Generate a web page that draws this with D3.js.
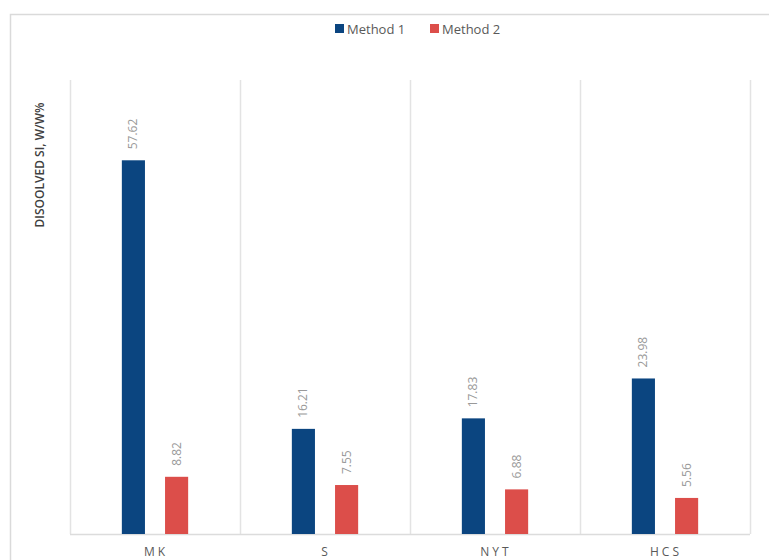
<!DOCTYPE html>
<html lang="en">
<head>
    <meta charset="UTF-8">
    <script src="https://d3js.org/d3.v7.min.js"></script>
    <style>
        body { margin: 0; background: #fff; }
        text { font-family: "Open Sans", "Liberation Sans", Arial, sans-serif; }
    </style>
</head>
<body>
    <svg id="chart" width="769" height="560"></svg>
    <script>
        // data
        const categories = ["MK", "S", "NYT", "HCS"];
        const seriesNames = ["Method 1", "Method 2"];
        const method1 = [57.62, 16.21, 17.83, 23.98];
        const method2 = [8.82, 7.55, 6.88, 5.56];
        const colors = ["#0b4580", "#dc4e4a"];

        const width = 769, height = 560;
        const margin = { top: 80, right: 19, bottom: 26, left: 70 };

        const svg = d3.select("#chart");

        // outer chart border (cut off at right/bottom like the reference)
        svg.append("rect")
            .attr("x", 10.5).attr("y", 14.5)
            .attr("width", 780).attr("height", 580)
            .attr("fill", "none")
            .attr("stroke", "#dadada")
            .attr("stroke-width", 1.5);

        const x = d3.scaleBand()
            .domain(categories)
            .range([margin.left, width - margin.right]);

        const y = d3.scaleLinear()
            .domain([0, 70])
            .range([height - margin.bottom, margin.top]);

        const inner = d3.scaleBand()
            .domain(seriesNames)
            .range([0, x.bandwidth()])
            .paddingInner(0.465)
            .paddingOuter(1.2);

        // vertical separators between categories
        const edges = categories.map(c => x(c)).concat([x.range()[1]]);
        svg.selectAll(".sep")
            .data(edges)
            .enter().append("line")
            .attr("x1", d => d + 0.5).attr("x2", d => d + 0.5)
            .attr("y1", margin.top).attr("y2", height - margin.bottom)
            .attr("stroke", "#e3e3e3")
            .attr("stroke-width", 1.5);

        // baseline
        svg.append("line")
            .attr("x1", margin.left).attr("x2", width - margin.right)
            .attr("y1", y(0) + 0.5).attr("y2", y(0) + 0.5)
            .attr("stroke", "#dcdcdc")
            .attr("stroke-width", 1.5);

        const rows = [];
        categories.forEach((c, i) => {
            rows.push({ cat: c, s: seriesNames[0], v: method1[i], col: colors[0] });
            rows.push({ cat: c, s: seriesNames[1], v: method2[i], col: colors[1] });
        });

        svg.selectAll(".bar")
            .data(rows)
            .enter().append("rect")
            .attr("class", "bar")
            .attr("x", d => x(d.cat) + inner(d.s))
            .attr("y", d => y(d.v))
            .attr("width", inner.bandwidth())
            .attr("height", d => y(0) - y(d.v))
            .attr("fill", d => d.col);

        // rotated value labels
        svg.selectAll(".label")
            .data(rows)
            .enter().append("text")
            .attr("class", "label")
            .attr("transform", d => `translate(${x(d.cat) + inner(d.s) + inner.bandwidth() / 2 + 4},${y(d.v) - 11}) rotate(-90)`)
            .attr("text-anchor", "start")
            .style("font-size", "12px")
            .attr("fill", "#999999")
            .text(d => d.v.toFixed(2));

        // category labels
        svg.selectAll(".cat")
            .data(categories)
            .enter().append("text")
            .attr("class", "cat")
            .attr("x", d => x(d) + x.bandwidth() / 2 + 1)
            .attr("y", height - 4)
            .attr("text-anchor", "middle")
            .style("font-size", "12px")
            .style("letter-spacing", "3px")
            .attr("fill", "#595959")
            .text(d => d);

        // y axis title
        svg.append("text")
            .attr("transform", `translate(44,165) rotate(-90)`)
            .attr("text-anchor", "middle")
            .style("font-size", "12px")
            .style("font-weight", "600")
            .attr("fill", "#404040")
            .text("DISOOLVED SI, W/W%");

        // legend
        const legendX = [335, 430];
        const legend = svg.selectAll(".legend")
            .data(seriesNames)
            .enter().append("g")
            .attr("transform", (d, i) => `translate(${legendX[i]},29)`);
        legend.append("rect")
            .attr("x", 0).attr("y", -5)
            .attr("width", 9).attr("height", 9)
            .attr("fill", (d, i) => colors[i]);
        legend.append("text")
            .attr("x", 12).attr("y", 5)
            .style("font-size", "13px")
            .attr("fill", "#595959")
            .text(d => d);
    </script>
</body>
</html>
